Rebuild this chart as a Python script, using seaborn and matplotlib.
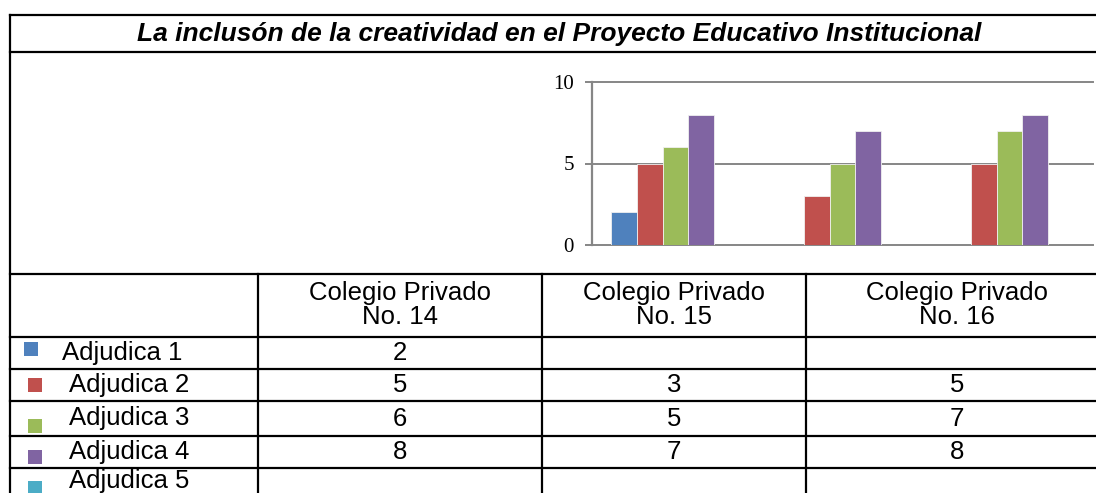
import numpy as np
import pandas as pd
import matplotlib
matplotlib.use("Agg")
import matplotlib.pyplot as plt
import seaborn as sns

# datos de la tabla (celdas vacias = nan)
colegios = ["Colegio Privado\nNo. 14", "Colegio Privado\nNo. 15", "Colegio Privado\nNo. 16"]
series = ["Adjudica 1", "Adjudica 2", "Adjudica 3", "Adjudica 4", "Adjudica 5"]
adjudica_1 = [2, np.nan, np.nan]
adjudica_2 = [5, 3, 5]
adjudica_3 = [6, 5, 7]
adjudica_4 = [8, 7, 8]
adjudica_5 = [np.nan, np.nan, np.nan]
colores = ["#4F81BD", "#C0504D", "#9BBB59", "#8064A2", "#4BACC6"]
titulo = "La inclusón de la creatividad en el Proyecto Educativo Institucional"

valores = [adjudica_1, adjudica_2, adjudica_3, adjudica_4, adjudica_5]

# formato largo para seaborn
filas = []
for serie, vals in zip(series, valores):
    for col, v in zip(colegios, vals):
        filas.append({"Colegio": col, "Serie": serie, "Valor": v})
df = pd.DataFrame(filas).dropna()

W, H = 1096, 493
fig = plt.figure(figsize=(W / 100, H / 100), dpi=100)

# capa de fondo en pixeles: bordes de la tabla y textos
bg = fig.add_axes([0, 0, 1, 1], zorder=0)
bg.set_xlim(0, W)
bg.set_ylim(H, 0)
bg.axis("off")

lw = 1.6
bg.plot([10, W + 5], [15, 15], color="black", lw=lw)
bg.plot([10, 10], [15, H + 5], color="black", lw=lw)
bg.plot([10, W + 5], [52, 52], color="black", lw=lw)
bg.plot([10, W + 5], [274, 274], color="black", lw=lw)
for y in [337, 369, 401, 436, 468]:
    bg.plot([10, W + 5], [y, y], color="black", lw=lw)
for x in [258, 542, 806]:
    bg.plot([x, x], [274, H + 5], color="black", lw=lw)

bg.text(559, 34, titulo, ha="center", va="center", fontsize=19,
        fontweight="bold", fontstyle="italic", family="Liberation Sans")

# encabezados de columnas
centros_x = [400, 674, 957]
for cx, col in zip(centros_x, colegios):
    bg.text(cx, 305, col, ha="center", va="center", fontsize=18.5,
            family="Liberation Sans", linespacing=1.0)

# filas con clave de color y valores
centros_y = [353, 385, 418.5, 452, 481]
marca_x = [30.5, 34.5, 34.5, 34.5, 34.5]
marca_y = [349, 385, 426, 457, 488]
texto_x = [62, 69, 69, 69, 69]
for i, (serie, vals) in enumerate(zip(series, valores)):
    bg.scatter([marca_x[i]], [marca_y[i]], marker="s", s=105, color=colores[i],
               linewidths=0)
    bg.text(texto_x[i], centros_y[i], serie, ha="left", va="center",
            fontsize=18.5, family="Liberation Sans")
    for cx, v in zip(centros_x, vals):
        if not np.isnan(v):
            bg.text(cx, centros_y[i], f"{int(v)}", ha="center", va="center",
                    fontsize=18.5, family="Liberation Sans")

# grafica de barras
ax = fig.add_axes([592 / W, 1 - 245 / H, 501 / W, (245 - 82) / H], zorder=1)
ax.patch.set_alpha(0)
sns.barplot(data=df, x="Colegio", y="Valor", hue="Serie", order=colegios,
            hue_order=series, palette=colores, saturation=1, width=0.77,
            edgecolor="#f0f0f0", linewidth=0.6, legend=False, ax=ax)

ax.set_ylim(0, 10)
ax.set_yticks([0, 5, 10])
ax.set_xticks([])
ax.set_xlabel("")
ax.set_ylabel("")
ax.grid(axis="y", color="#868686", lw=1.4)
ax.set_axisbelow(True)
for s in ["top", "right", "bottom"]:
    ax.spines[s].set_visible(False)
ax.spines["left"].set_color("#868686")
ax.spines["left"].set_linewidth(1.6)
ax.tick_params(axis="y", length=5, width=1.4, color="#868686", pad=8,
               labelsize=15)
for lab in ax.get_yticklabels():
    lab.set_family("Liberation Serif")
for gl in ax.get_ygridlines():
    gl.set_clip_on(False)

fig.savefig("out.png", dpi=100)
